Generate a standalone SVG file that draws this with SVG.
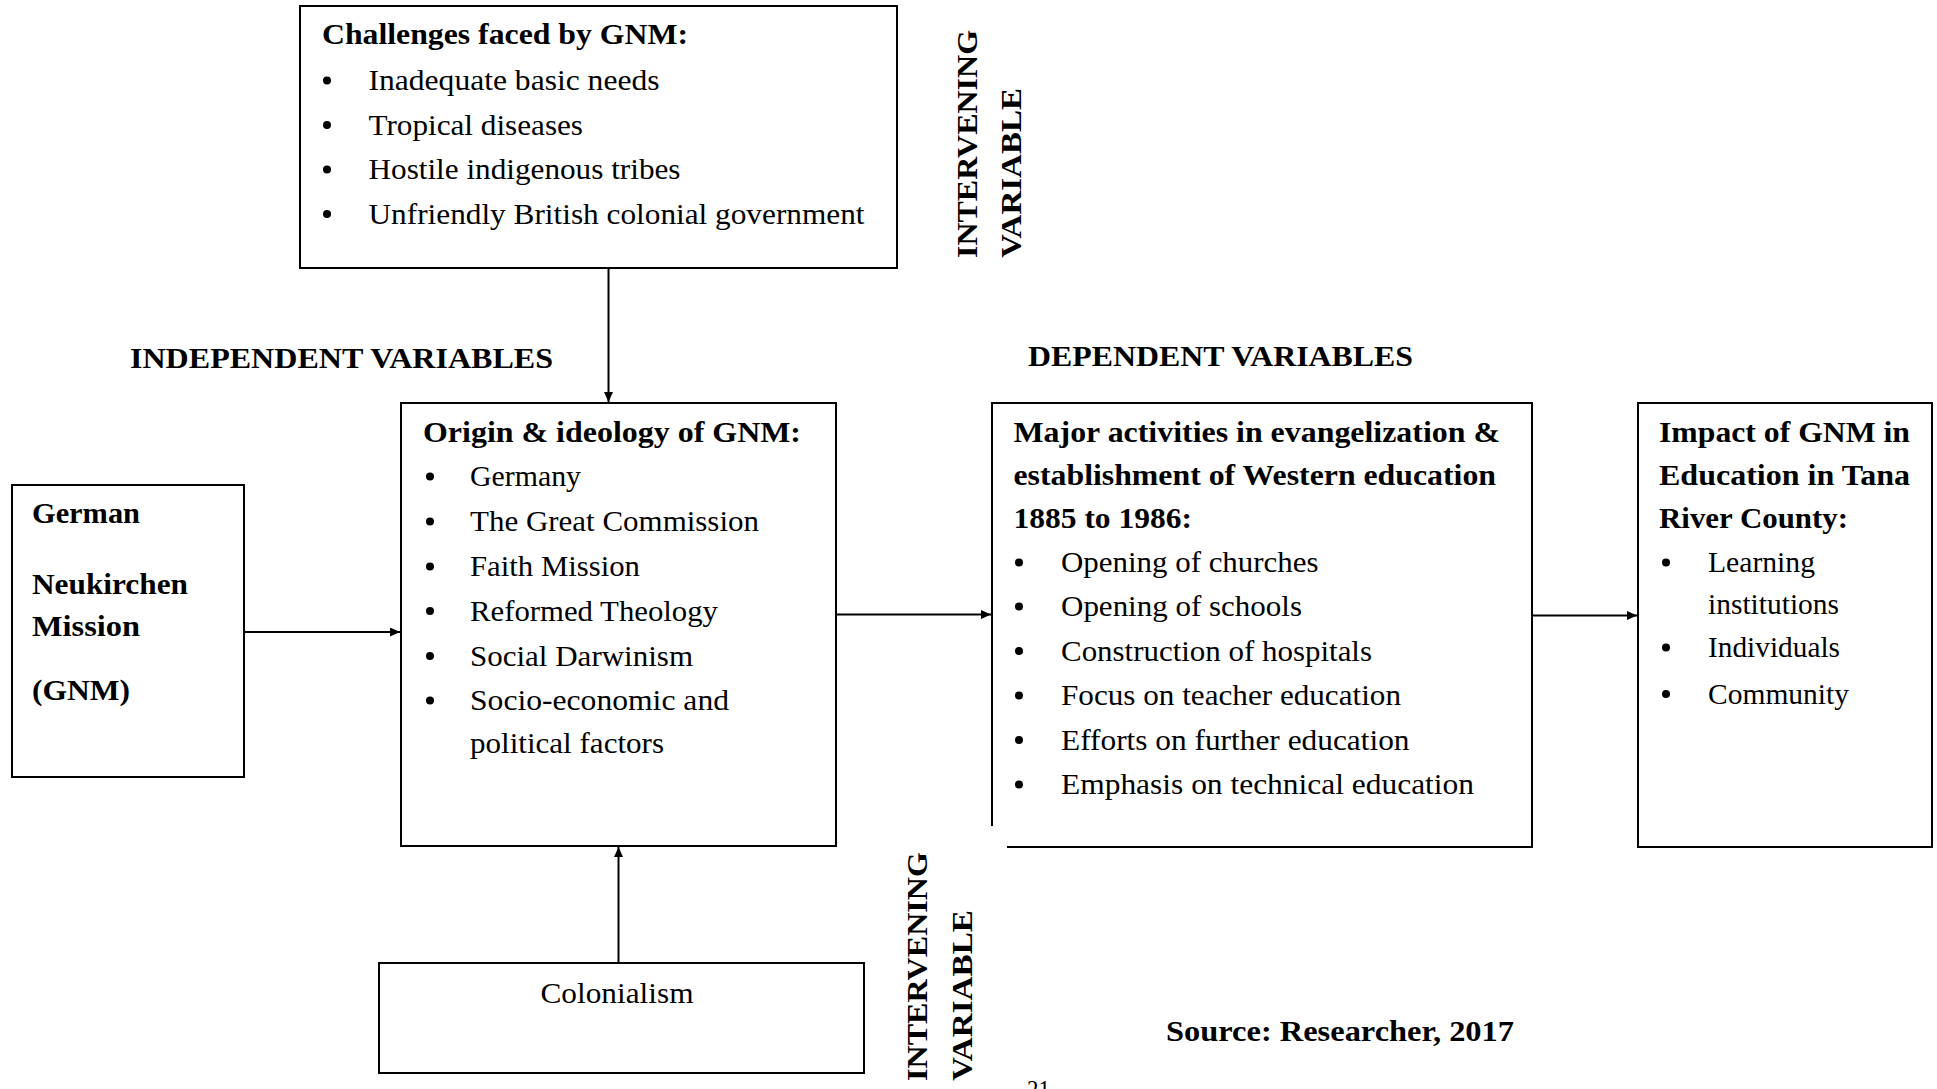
<svg xmlns="http://www.w3.org/2000/svg" width="1937" height="1089" viewBox="0 0 1937 1089">
<style>
  text { font-family: "Liberation Serif", "Times New Roman", serif; font-size: 30px; fill: #000; }
  .b { font-weight: bold; }
  .rot { font-weight: bold; font-size: 30px; }
  .box { fill: none; stroke: #000; stroke-width: 2; }
  .conn { fill: none; stroke: #000; stroke-width: 2; marker-end: url(#arrow); }
  .dot { fill: #000; }
</style>
<defs>
  <marker id="arrow" viewBox="0 0 10 9" refX="10" refY="4.5" markerWidth="10" markerHeight="9" markerUnits="userSpaceOnUse" orient="auto">
    <path d="M0,0 L10,4.5 L0,9 z" fill="#000"/>
  </marker>
</defs>
<rect width="1937" height="1089" fill="#fff"/>

<g id="challenges">
  <rect class="box" x="300" y="6" width="597" height="262"/>
  <text class="b" x="322" y="44" textLength="366" lengthAdjust="spacingAndGlyphs">Challenges faced by GNM:</text>
  <circle class="dot" cx="327" cy="80.5" r="4"/>
  <text x="368.5" y="90" textLength="291" lengthAdjust="spacingAndGlyphs">Inadequate basic needs</text>
  <circle class="dot" cx="327" cy="125" r="4"/>
  <text x="368.5" y="134.5" textLength="214.5" lengthAdjust="spacingAndGlyphs">Tropical diseases</text>
  <circle class="dot" cx="327" cy="169.5" r="4"/>
  <text x="368.5" y="179" textLength="312" lengthAdjust="spacingAndGlyphs">Hostile indigenous tribes</text>
  <circle class="dot" cx="327" cy="214" r="4"/>
  <text x="368.5" y="223.5" textLength="496" lengthAdjust="spacingAndGlyphs">Unfriendly British colonial government</text>
</g>

<g id="intervening-top">
  <text class="rot" transform="translate(977,258) rotate(-90)" textLength="228" lengthAdjust="spacingAndGlyphs">INTERVENING</text>
  <text class="rot" transform="translate(1021,258) rotate(-90)" textLength="170" lengthAdjust="spacingAndGlyphs">VARIABLE</text>
</g>

<g id="label-independent">
  <text class="b" x="130" y="368" textLength="423" lengthAdjust="spacingAndGlyphs">INDEPENDENT VARIABLES</text>
</g>
<g id="label-dependent">
  <text class="b" x="1028" y="366" textLength="385" lengthAdjust="spacingAndGlyphs">DEPENDENT VARIABLES</text>
</g>

<g id="gnm">
  <rect class="box" x="12" y="485" width="232" height="292"/>
  <text class="b" x="32" y="523" textLength="108" lengthAdjust="spacingAndGlyphs">German</text>
  <text class="b" x="32" y="594" textLength="156" lengthAdjust="spacingAndGlyphs">Neukirchen</text>
  <text class="b" x="32" y="636" textLength="108" lengthAdjust="spacingAndGlyphs">Mission</text>
  <text class="b" x="32" y="700" textLength="98" lengthAdjust="spacingAndGlyphs">(GNM)</text>
</g>

<g id="origin">
  <rect class="box" x="401" y="403" width="435" height="443"/>
  <text class="b" x="423" y="441.5" textLength="378" lengthAdjust="spacingAndGlyphs">Origin &amp; ideology of GNM:</text>
  <circle class="dot" cx="430" cy="476.5" r="4"/>
  <text x="470" y="486" textLength="111" lengthAdjust="spacingAndGlyphs">Germany</text>
  <circle class="dot" cx="430" cy="521.5" r="4"/>
  <text x="470" y="531" textLength="289" lengthAdjust="spacingAndGlyphs">The Great Commission</text>
  <circle class="dot" cx="430" cy="566.5" r="4"/>
  <text x="470" y="576" textLength="170" lengthAdjust="spacingAndGlyphs">Faith Mission</text>
  <circle class="dot" cx="430" cy="611" r="4"/>
  <text x="470" y="620.5" textLength="248" lengthAdjust="spacingAndGlyphs">Reformed Theology</text>
  <circle class="dot" cx="430" cy="656" r="4"/>
  <text x="470" y="665.5" textLength="223" lengthAdjust="spacingAndGlyphs">Social Darwinism</text>
  <circle class="dot" cx="430" cy="700.5" r="4"/>
  <text x="470" y="710" textLength="259" lengthAdjust="spacingAndGlyphs">Socio-economic and</text>
  <text x="470" y="753" textLength="194" lengthAdjust="spacingAndGlyphs">political factors</text>
</g>

<g id="activities">
  <path class="box" d="M1007,847 H1532 V403 H992 V826"/>
  <text class="b" x="1013.5" y="441.5" textLength="486.5" lengthAdjust="spacingAndGlyphs">Major activities in evangelization &amp;</text>
  <text class="b" x="1013.5" y="484.5" textLength="482.5" lengthAdjust="spacingAndGlyphs">establishment of Western education</text>
  <text class="b" x="1013.5" y="528" textLength="178.5" lengthAdjust="spacingAndGlyphs">1885 to 1986:</text>
  <circle class="dot" cx="1019" cy="562.5" r="4"/>
  <text x="1061" y="572" textLength="257.5" lengthAdjust="spacingAndGlyphs">Opening of churches</text>
  <circle class="dot" cx="1019" cy="606.5" r="4"/>
  <text x="1061" y="616" textLength="241" lengthAdjust="spacingAndGlyphs">Opening of schools</text>
  <circle class="dot" cx="1019" cy="651" r="4"/>
  <text x="1061" y="660.5" textLength="311" lengthAdjust="spacingAndGlyphs">Construction of hospitals</text>
  <circle class="dot" cx="1019" cy="695.5" r="4"/>
  <text x="1061" y="705" textLength="340" lengthAdjust="spacingAndGlyphs">Focus on teacher education</text>
  <circle class="dot" cx="1019" cy="740" r="4"/>
  <text x="1061" y="749.5" textLength="348.5" lengthAdjust="spacingAndGlyphs">Efforts on further education</text>
  <circle class="dot" cx="1019" cy="784.5" r="4"/>
  <text x="1061" y="794" textLength="413" lengthAdjust="spacingAndGlyphs">Emphasis on technical education</text>
</g>

<g id="impact">
  <rect class="box" x="1638" y="403" width="294" height="444"/>
  <text class="b" x="1659" y="441.5" textLength="251" lengthAdjust="spacingAndGlyphs">Impact of GNM in</text>
  <text class="b" x="1659" y="484.5" textLength="251" lengthAdjust="spacingAndGlyphs">Education in Tana</text>
  <text class="b" x="1659" y="528" textLength="189" lengthAdjust="spacingAndGlyphs">River County:</text>
  <circle class="dot" cx="1666" cy="562.5" r="4"/>
  <text x="1708" y="572" textLength="107" lengthAdjust="spacingAndGlyphs">Learning</text>
  <text x="1708" y="614" textLength="131" lengthAdjust="spacingAndGlyphs">institutions</text>
  <circle class="dot" cx="1666" cy="647.5" r="4"/>
  <text x="1708" y="657" textLength="132" lengthAdjust="spacingAndGlyphs">Individuals</text>
  <circle class="dot" cx="1666" cy="694" r="4"/>
  <text x="1708" y="703.5" textLength="141" lengthAdjust="spacingAndGlyphs">Community</text>
</g>

<g id="colonialism">
  <rect class="box" x="379" y="963" width="485" height="110"/>
  <text x="617" y="1003" text-anchor="middle" textLength="153" lengthAdjust="spacingAndGlyphs">Colonialism</text>
</g>

<g id="intervening-bottom">
  <text class="rot" transform="translate(927,1081) rotate(-90)" textLength="229" lengthAdjust="spacingAndGlyphs">INTERVENING</text>
  <text class="rot" transform="translate(972,1081) rotate(-90)" textLength="171" lengthAdjust="spacingAndGlyphs">VARIABLE</text>
</g>

<g id="source">
  <text class="b" x="1166" y="1041" textLength="348" lengthAdjust="spacingAndGlyphs">Source: Researcher, 2017</text>
</g>
<g id="page-number">
  <text x="1027" y="1098" style="font-size:25px" textLength="23" lengthAdjust="spacingAndGlyphs">21</text>
</g>

<g id="connectors">
  <path class="conn" d="M608.5,268 V402"/>
  <path class="conn" d="M244,632 H400"/>
  <path class="conn" d="M836,614.5 H991"/>
  <path class="conn" d="M1532,615.5 H1637"/>
  <path class="conn" d="M618.5,963 V847"/>
</g>
</svg>
